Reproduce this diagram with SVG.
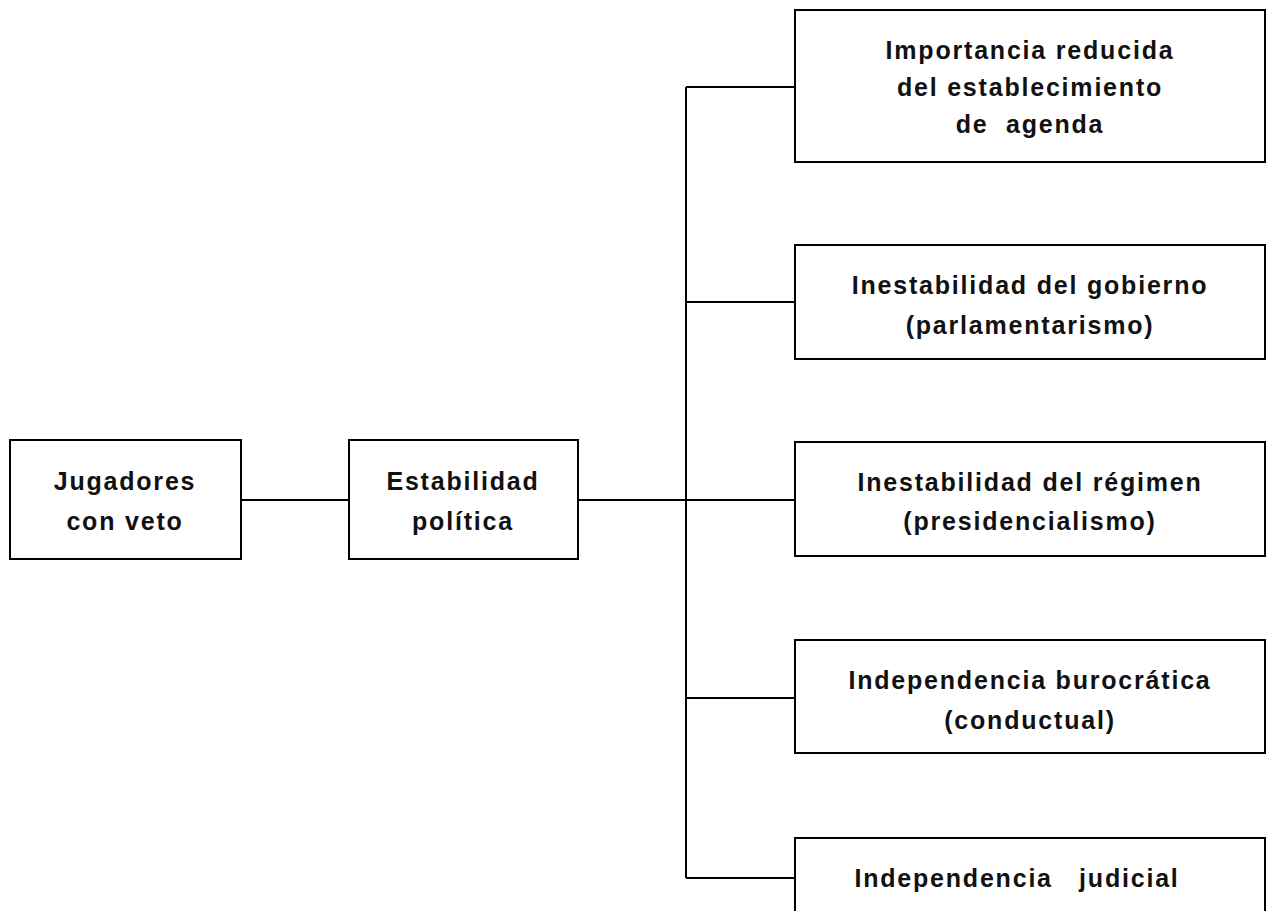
<svg xmlns="http://www.w3.org/2000/svg" width="1269" height="911" viewBox="0 0 1269 911">
<style>
.box{fill:#fff;stroke:#000;stroke-width:2}
.ln{fill:none;stroke:#000;stroke-width:2}
text{font-family:"Liberation Sans",Arial,sans-serif;font-size:25px;font-weight:bold;fill:#111;text-anchor:middle;letter-spacing:1.8px;white-space:pre}
</style>
<rect width="1269" height="911" fill="#fff"/>
<g id="connectors">
<line class="ln" x1="241" y1="500" x2="349" y2="500"/>
<line class="ln" x1="578" y1="500" x2="795" y2="500"/>
<line class="ln" x1="686" y1="87" x2="686" y2="878"/>
<line class="ln" x1="686" y1="87" x2="795" y2="87"/>
<line class="ln" x1="686" y1="302" x2="795" y2="302"/>
<line class="ln" x1="686" y1="698" x2="795" y2="698"/>
<line class="ln" x1="686" y1="878" x2="795" y2="878"/>
</g>
<g id="n1"><rect class="box" x="10" y="440" width="231" height="119"/>
<text x="125" y="490">Jugadores</text><text x="125" y="530">con veto</text></g>
<g id="n2"><rect class="box" x="349" y="440" width="229" height="119"/>
<text x="463" y="490">Estabilidad</text><text x="463" y="530">política</text></g>
<g id="n3"><rect class="box" x="795" y="10" width="470" height="152"/>
<text x="1030" y="59">Importancia reducida</text><text x="1030" y="96">del establecimiento</text><text x="1030" y="133">de  agenda</text></g>
<g id="n4"><rect class="box" x="795" y="245" width="470" height="114"/>
<text x="1030" y="294">Inestabilidad del gobierno</text><text x="1030" y="334">(parlamentarismo)</text></g>
<g id="n5"><rect class="box" x="795" y="442" width="470" height="114"/>
<text x="1030" y="491">Inestabilidad del régimen</text><text x="1030" y="530">(presidencialismo)</text></g>
<g id="n6"><rect class="box" x="795" y="640" width="470" height="113"/>
<text x="1030" y="689">Independencia burocrática</text><text x="1030" y="729">(conductual)</text></g>
<g id="n7"><rect class="box" x="795" y="838" width="470" height="100"/>
<text x="1017" y="887">Independencia   judicial</text></g>
</svg>
